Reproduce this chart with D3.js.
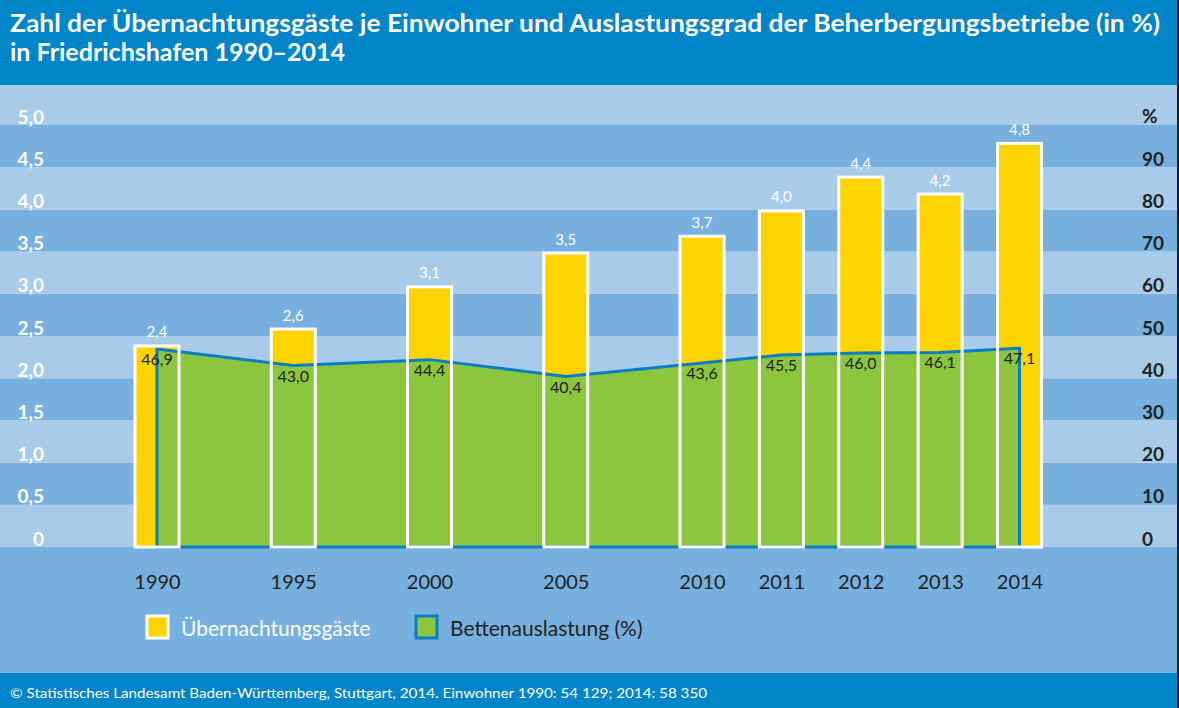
<!DOCTYPE html>
<html>
<head>
<meta charset="utf-8">
<script src="https://cdn.jsdelivr.net/npm/d3@7"></script>
<style>
  body { margin: 0; padding: 0; background: #fff; }
  svg { display: block; font-family: Lato, "Open Sans", sans-serif; }
</style>
</head>
<body>
<div id="chart"></div>
<script>
document.addEventListener("DOMContentLoaded", () => {
    const width = 1179, height = 708;

    // data
    const years = [1990, 1995, 2000, 2005, 2010, 2011, 2012, 2013, 2014];
    const guests = [2.4, 2.6, 3.1, 3.5, 3.7, 4.0, 4.4, 4.2, 4.8];
    const occupancy = [46.9, 43.0, 44.4, 40.4, 43.6, 45.5, 46.0, 46.1, 47.1];
    const leftTicks = [0, 0.5, 1, 1.5, 2, 2.5, 3, 3.5, 4, 4.5, 5];
    const rightTicks = [0, 10, 20, 30, 40, 50, 60, 70, 80, 90];
    const titleLines = [
        "Zahl der Übernachtungsgäste je Einwohner und Auslastungsgrad der Beherbergungsbetriebe (in %)",
        "in Friedrichshafen 1990–2014"
    ];
    const legendItems = ["Übernachtungsgäste", "Bettenauslastung (%)"];
    const source = "© Statistisches Landesamt Baden-Württemberg, Stuttgart, 2014. Einwohner 1990: 54 129; 2014: 58 350";

    const darkBlue = "#0085c8", lightBand = "#a9cbea", darkBand = "#77b0df";
    const yellow = "#fdd300", green = "#8cc63f", lineBlue = "#0a7ec4", textDark = "#222";

    const headerH = 85, footerTop = 673;
    const barW = 44;

    const de = d3.formatLocale({ decimal: ",", thousands: ".", grouping: [3], currency: ["", "€"] });
    const f1 = de.format(".1f");

    // piecewise x scale: 5-year steps then yearly steps
    const x = d3.scaleLinear().domain([1990, 2010, 2014]).range([157, 702, 1019.5]);
    const yL = d3.scaleLinear().domain([0, 5]).range([547, 125]);
    const yR = d3.scaleLinear().domain([0, 100]).range([547, 125]);

    const svg = d3.select("#chart").append("svg")
        .attr("width", width)
        .attr("height", height);

    // background bands
    const step = 0.5;
    const bandIdx = d3.range(-1, 11);
    svg.selectAll("rect.band")
        .data(bandIdx)
        .join("rect")
        .attr("class", "band")
        .attr("x", 0)
        .attr("width", width)
        .attr("y", k => k === 10 ? headerH : yL((k + 1) * step))
        .attr("height", k => {
            const top = k === 10 ? headerH : yL((k + 1) * step);
            const bottom = k === -1 ? footerTop : yL(k * step);
            return bottom - top;
        })
        .attr("fill", k => ((k % 2) + 2) % 2 === 0 ? lightBand : darkBand);

    // header and footer
    svg.append("rect").attr("x", 0).attr("y", 0).attr("width", width).attr("height", headerH).attr("fill", darkBlue);
    svg.append("rect").attr("x", 0).attr("y", footerTop).attr("width", width).attr("height", height - footerTop).attr("fill", darkBlue);
    svg.append("rect").attr("x", width - 2).attr("y", 0).attr("width", 2).attr("height", height).attr("fill", "#1d1d1b");

    const titleW = [1150, 335];
    svg.selectAll("text.title")
        .data(titleLines)
        .join("text")
        .attr("class", "title")
        .attr("x", 10)
        .attr("y", (d, i) => 32 + i * 29)
        .attr("fill", "#fff")
        .attr("font-size", 24)
        .attr("font-weight", "bold")
        .attr("textLength", (d, i) => titleW[i])
        .attr("lengthAdjust", "spacingAndGlyphs")
        .text(d => d);

    svg.append("text")
        .attr("x", 10)
        .attr("y", 698)
        .attr("fill", "#fff")
        .attr("font-size", 14)
        .attr("textLength", 697)
        .attr("lengthAdjust", "spacingAndGlyphs")
        .text(source);

    // bars (fill)
    const data = years.map((yr, i) => ({ yr, g: guests[i], o: occupancy[i] }));
    svg.selectAll("rect.bar")
        .data(data)
        .join("rect")
        .attr("class", "bar")
        .attr("x", d => x(d.yr) - barW / 2)
        .attr("y", d => yL(d.g) + 1.5)
        .attr("width", barW)
        .attr("height", d => yL(0) - yL(d.g) - 1.5)
        .attr("fill", yellow);

    // area
    const area = d3.area()
        .x(d => x(d.yr))
        .y0(yR(0))
        .y1(d => yR(d.o));
    svg.append("path")
        .datum(data)
        .attr("d", area)
        .attr("fill", green)
        .attr("stroke", lineBlue)
        .attr("stroke-width", 3)
        .attr("stroke-linejoin", "miter");

    // bar outlines
    svg.selectAll("rect.outline")
        .data(data)
        .join("rect")
        .attr("class", "outline")
        .attr("x", d => x(d.yr) - barW / 2)
        .attr("y", d => yL(d.g) + 1.5)
        .attr("width", barW)
        .attr("height", d => yL(0) - yL(d.g) - 1.5)
        .attr("fill", "none")
        .attr("stroke", "#fff")
        .attr("stroke-width", 3);

    // labels
    svg.selectAll("text.gval")
        .data(data)
        .join("text")
        .attr("class", "gval")
        .attr("x", d => x(d.yr))
        .attr("y", d => yL(d.g) - 7)
        .attr("text-anchor", "middle")
        .attr("fill", "#fff")
        .attr("font-size", 15)
        .text(d => f1(d.g));

    svg.selectAll("text.oval")
        .data(data)
        .join("text")
        .attr("class", "oval")
        .attr("x", d => x(d.yr))
        .attr("y", d => yR(d.o) + 16)
        .attr("text-anchor", "middle")
        .attr("fill", textDark)
        .attr("font-size", 16)
        .text(d => f1(d.o));

    // left axis
    const axL = svg.append("g")
        .attr("transform", "translate(44,0)")
        .call(d3.axisLeft(yL).tickValues(leftTicks).tickSize(0).tickPadding(0)
            .tickFormat(d => d === 0 ? "0" : f1(d)));
    axL.select(".domain").remove();
    axL.selectAll("text")
        .attr("dy", null)
        .attr("y", -2)
        .attr("fill", "#fff")
        .attr("font-size", 19)
        .attr("font-weight", "bold")
        .attr("font-family", "Lato, sans-serif");

    // right axis
    const axR = svg.append("g")
        .attr("transform", "translate(1142,0)")
        .call(d3.axisRight(yR).tickValues(rightTicks).tickSize(0).tickPadding(0));
    axR.select(".domain").remove();
    axR.selectAll("text")
        .attr("dy", null)
        .attr("y", -2)
        .attr("fill", textDark)
        .attr("font-size", 19)
        .attr("font-weight", "bold")
        .attr("font-family", "Lato, sans-serif");
    svg.append("text")
        .attr("x", 1142)
        .attr("y", yR(100) - 2)
        .attr("fill", textDark)
        .attr("font-size", 19)
        .attr("font-weight", "bold")
        .text("%");

    // x axis
    const axX = svg.append("g")
        .attr("transform", "translate(0,547)")
        .call(d3.axisBottom(x).tickValues(years).tickSize(0).tickPadding(0).tickFormat(d3.format("d")));
    axX.select(".domain").remove();
    axX.selectAll("text")
        .attr("dy", null)
        .attr("y", 42)
        .attr("fill", textDark)
        .attr("font-size", 20)
        .attr("font-family", "Lato, sans-serif");

    // legend
    const leg = svg.append("g");
    const legX = [147, 416];
    leg.selectAll("rect")
        .data(legendItems)
        .join("rect")
        .attr("x", (d, i) => legX[i])
        .attr("y", 616)
        .attr("width", 21)
        .attr("height", 22)
        .attr("fill", (d, i) => i === 0 ? yellow : green)
        .attr("stroke", (d, i) => i === 0 ? "#fff" : lineBlue)
        .attr("stroke-width", 3);
    leg.selectAll("text")
        .data(legendItems)
        .join("text")
        .attr("x", (d, i) => legX[i] + 34)
        .attr("y", 636)
        .attr("fill", (d, i) => i === 0 ? "#fff" : textDark)
        .attr("font-size", 21)
        .text(d => d);
});
</script>
</body>
</html>
